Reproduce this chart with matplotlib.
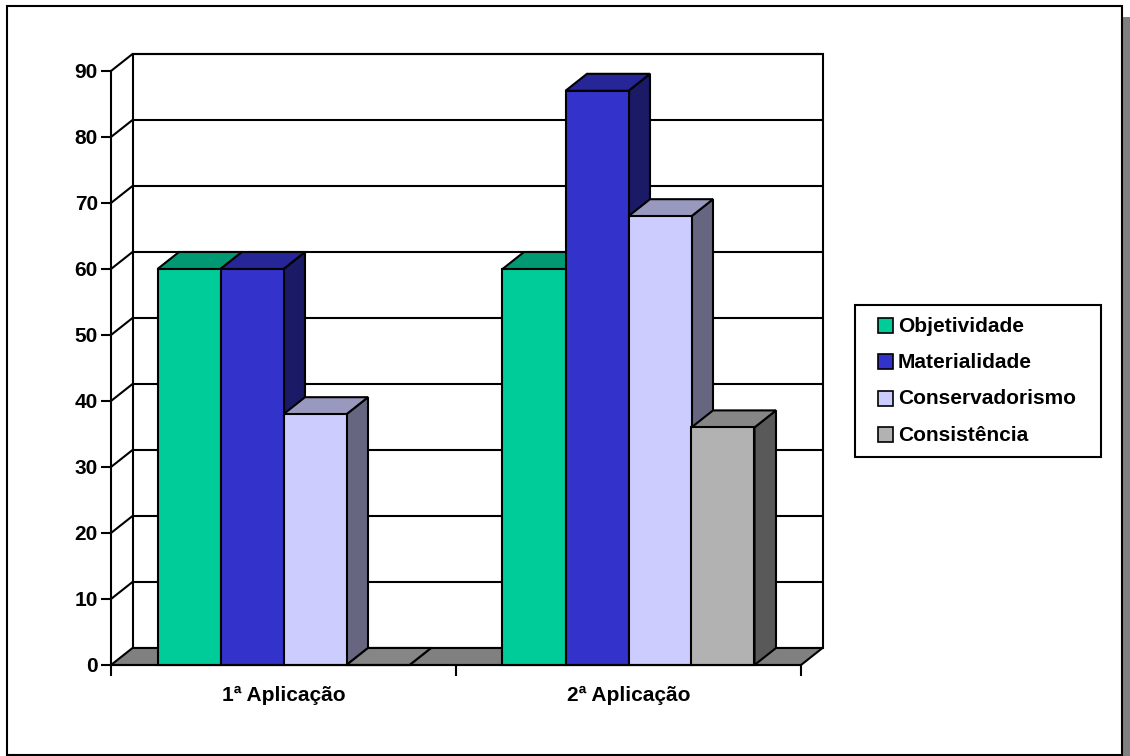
import matplotlib
matplotlib.use("Agg")
import matplotlib.pyplot as plt
from matplotlib.patches import Polygon, Rectangle

plt.rcParams["font.family"] = ["Liberation Sans", "DejaVu Sans"]
plt.rcParams["font.weight"] = "bold"

# ---- data -------------------------------------------------------------
categories = ["1ª Aplicação", "2ª Aplicação"]
series_names = ["Objetividade", "Materialidade", "Conservadorismo", "Consistência"]
objetividade = [60, 60]
materialidade = [60, 87]
conservadorismo = [38, 68]
consistencia = [0, 36]
y_ticks = [0, 10, 20, 30, 40, 50, 60, 70, 80, 90]

series_values = [objetividade, materialidade, conservadorismo, consistencia]

# front / top / side shades for each series
front_colors = ["#00CC99", "#3333CC", "#CCCCFF", "#B2B2B2"]
top_colors = ["#009973", "#262699", "#9999BF", "#868686"]
side_colors = ["#006650", "#1A1A66", "#666680", "#595959"]

# ---- figure -----------------------------------------------------------
W, H = 1130, 756
fig = plt.figure(figsize=(W / 100, H / 100), dpi=100)

LW = 1.5
FS = 15

# page frame with drop shadow
bg = fig.add_axes([0, 0, 1, 1])
bg.set_xlim(0, W)
bg.set_ylim(H, 0)
bg.axis("off")
bg.add_patch(Rectangle((18, 17), W, H, fc="#808080", ec="none"))
bg.add_patch(Rectangle((7, 6), 1115, 749, fc="white", ec="black", lw=LW))

# plotting plane (front face of the 3-D box)
ax = fig.add_axes([111 / W, (H - 665) / H, 690 / W, 594 / H])
ax.set_zorder(2)
ax.patch.set_visible(False)
ax.set_xlim(0, len(categories))
ax.set_ylim(0, 90)

# depth of the box, in data units
DX = 21.5 / 345.0
DY = 17.0 / 6.6
ncat = len(categories)
top = y_ticks[-1]

# walls and floor
ax.add_patch(Polygon([(0, 0), (DX, DY), (DX, top + DY), (0, top)],
                     closed=True, fc="white", ec="none", clip_on=False, zorder=1))
ax.add_patch(Rectangle((DX, DY), ncat, top, fc="white", ec="black", lw=LW,
                       clip_on=False, zorder=1))
for v in y_ticks[1:]:
    ax.plot([0, DX, ncat + DX], [v, v + DY, v + DY], color="black", lw=LW,
            clip_on=False, zorder=2, solid_capstyle="butt")
ax.add_patch(Polygon([(0, 0), (ncat, 0), (ncat + DX, DY), (DX, DY)], closed=True,
                     fc="#808080", ec="black", lw=LW, clip_on=False, zorder=3))

# 3-D bars
nser = len(series_names)
bw = 63.0 / 345.0
offset = (1.0 - nser * bw) / 2.0
z = 4
for i in range(ncat):
    for j in range(nser):
        h = series_values[j][i]
        x0 = i + offset + j * bw
        side = Polygon([(x0 + bw, 0), (x0 + bw + DX, DY), (x0 + bw + DX, h + DY), (x0 + bw, h)],
                       closed=True, fc=side_colors[j], ec="black", lw=LW,
                       clip_on=False, zorder=z, joinstyle="miter")
        topf = Polygon([(x0, h), (x0 + bw, h), (x0 + bw + DX, h + DY), (x0 + DX, h + DY)],
                       closed=True, fc=top_colors[j], ec="black", lw=LW,
                       clip_on=False, zorder=z, joinstyle="miter")
        front = Rectangle((x0, 0), bw, h, fc=front_colors[j], ec="black", lw=LW,
                          clip_on=False, zorder=z + 0.5, joinstyle="miter")
        ax.add_patch(side)
        ax.add_patch(topf)
        ax.add_patch(front)
        z += 1

# axes
for s in ("top", "right"):
    ax.spines[s].set_visible(False)
for s in ("left", "bottom"):
    ax.spines[s].set_linewidth(LW)
    ax.spines[s].set_zorder(50)
ax.spines["bottom"].set_zorder(60)

ax.set_yticks(y_ticks)
ax.set_yticklabels([str(v) for v in y_ticks], fontsize=FS, fontweight="bold")
ax.tick_params(axis="y", direction="out", length=7.5, width=LW, pad=2)

ax.set_xticks(range(ncat + 1))
ax.set_xticklabels([])
ax.tick_params(axis="x", which="major", direction="out", length=8, width=LW)
ax.set_xticks([i + 0.5 for i in range(ncat)], minor=True)
ax.set_xticklabels(categories, minor=True, fontsize=FS, fontweight="bold")
ax.tick_params(axis="x", which="minor", length=0, pad=15)

# legend box
bg.add_patch(Rectangle((855, 305), 246, 152, fc="white", ec="black", lw=LW, zorder=5))
row_y = [325, 361.5, 398, 434.5]
for name, col, yc in zip(series_names, front_colors, row_y):
    bg.add_patch(Rectangle((878, yc - 7.5), 15, 15, fc=col, ec="black", lw=1.2, zorder=6))
    bg.text(898, yc + 6.5, name, fontsize=FS, fontweight="bold", va="baseline",
            ha="left", zorder=6)

fig.savefig("out.png", dpi=100)
